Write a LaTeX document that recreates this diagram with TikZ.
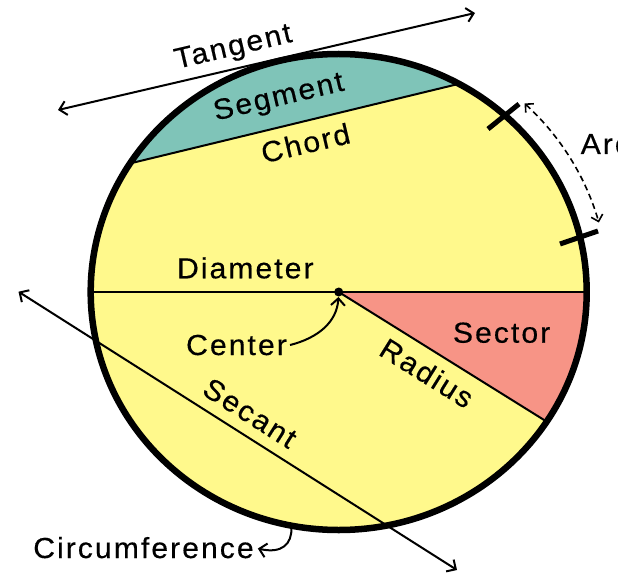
\documentclass[tikz,border=0pt]{standalone}
\usepackage{fontspec}
\setmainfont{Liberation Sans}[FakeStretch=1.04,LetterSpace=7,FakeBold=0.4]
\usetikzlibrary{arrows.meta,calc}
\definecolor{fillyellow}{RGB}{255,249,140}
\definecolor{fillteal}{RGB}{127,196,184}
\definecolor{fillsalmon}{RGB}{247,148,134}
\begin{document}
\begin{tikzpicture}[x=1pt,y=1pt,
  lbl/.style={font=\fontsize{29}{31}\selectfont, inner sep=0pt},
  thinline/.style={line width=2pt},
  barb/.style={-{Straight Barb[length=7pt,width=14pt,line width=2pt]}},
  barbs/.style={{Straight Barb[length=7pt,width=14pt,line width=2pt]}-{Straight Barb[length=7pt,width=14pt,line width=2pt]}},
  dbarbs/.style={{Straight Barb[length=6pt,width=12pt,line width=1.6pt]}-{Straight Barb[length=6pt,width=12pt,line width=1.6pt]}},
  tick/.style={line width=5pt},
  rim/.style={line width=6.5pt}]
\clip (0,0) rectangle (618,574);
\coordinate (C) at (338.7,282);
\path (C) ++(147.3:248 and 238) coordinate (A);
\path (C) ++(61:248 and 238) coordinate (B);
\path (C) ++(-33:248 and 238) coordinate (R);
\path (C) ++(0:248 and 238) coordinate (E);
\path (C) ++(180:248 and 238) coordinate (W);
\path (C) ++(-101:248 and 238) coordinate (cb);
\path (C) ++(46.5:270 and 260) coordinate (arcA);
% fills
\fill[fillyellow] (C) ellipse[x radius=248, y radius=238];
\fill[fillteal] (B) arc[start angle=61, end angle=147.3, x radius=248, y radius=238] -- cycle;
\fill[fillsalmon] (C) -- (E) arc[start angle=0, end angle=-33, x radius=248, y radius=238] -- cycle;
% inner lines
\draw[thinline] (W) -- (E);
\draw[thinline] (A) -- (B);
\draw[thinline] (C) -- (R);
% rim
\draw[rim] (C) ellipse[x radius=248, y radius=238];
\fill (C) circle[radius=4.5];
% ticks
\coordinate (t1a) at (488,445);
\coordinate (t1b) at (519,470);
\coordinate (t2a) at (560,330);
\coordinate (t2b) at (598,343);
\draw[tick] (t1a) -- (t1b);
\draw[tick] (t2a) -- (t2b);
% arc arrow
\draw[line width=1.6pt, dash pattern=on 6pt off 4pt, dbarbs] (arcA) arc[start angle=46.5, end angle=15.5, x radius=270, y radius=260];
% tangent and secant
\coordinate (tanL) at (58,464);
\coordinate (tanR) at (475,561);
\draw[thinline, barbs] (tanL) -- (tanR);
\coordinate (secL) at (18.5,282.3);
\coordinate (secR) at (457,4);
\draw[thinline, barbs] (secL) -- (secR);
% labels
\node[lbl, rotate=13.2] (tangent) at (233.5,525.5) {Tangent};
\node[lbl, rotate=13.2] (segment) at (279,475.5) {Segment};
\node[lbl, rotate=13.2] (chord) at (305.5,431) {Chord};
\node[lbl, anchor=base west] (arc) at (580.5,420) {Arc};
\node[lbl, anchor=base] (diameter) at (245.3,295.7) {Diameter};
\node[lbl, anchor=base] (center) at (236.5,219) {Center};
\node[lbl, anchor=base] (sector) at (501.6,231.3) {Sector};
\node[lbl, rotate=-32] (radius) at (427,201) {Radius};
\node[lbl, rotate=-32.4] (secant) at (250,161) {Secant};
\node[lbl, anchor=base] (circum) at (143.5,16) {Circumference};
% pointer arrows
\draw[thinline, barb, shorten >=5pt] ([xshift=3pt]center.east) .. controls (318,236) and (337,252) .. (C);
\draw[thinline, barb, shorten <=2pt, shorten >=4pt] (cb) .. controls (292,30) and (282,20) .. (circum.east);
\end{tikzpicture}
\end{document}
